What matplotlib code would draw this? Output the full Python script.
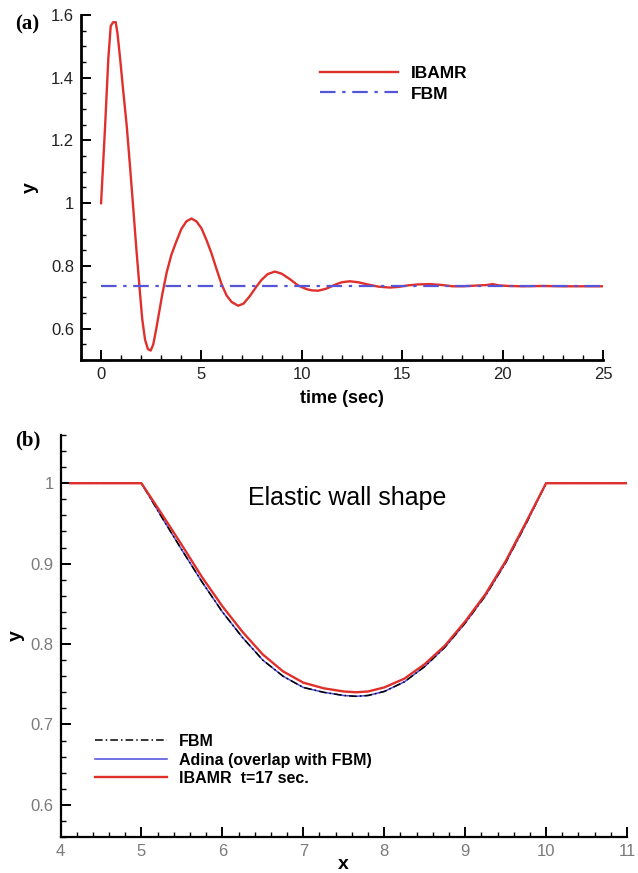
import numpy as np
import matplotlib.pyplot as plt
from matplotlib.ticker import MultipleLocator

# ── Data ───────────────────────────────────────────────────────────────────
# (a) vertical position of the wall vs time
t_ibamr = [0, 0.2, 0.36, 0.48, 0.6, 0.73, 0.82, 0.95, 1.1, 1.28, 1.45, 1.61,
           1.75, 1.91, 2.05, 2.19, 2.33, 2.47, 2.6, 2.75, 2.9, 3.05, 3.27,
           3.5, 3.73, 4.0, 4.25, 4.5, 4.75, 5.0, 5.26, 5.5, 5.75, 6.0, 6.25,
           6.5, 6.83, 7.1, 7.4, 7.75, 8.0, 8.3, 8.66, 9.0, 9.4, 9.8, 10.23,
           10.5, 10.81, 11.2, 11.73, 12.0, 12.39, 12.8, 13.2, 13.8, 14.38,
           14.8, 15.3, 15.8, 16.4, 17.0, 17.5, 18.0, 18.6, 19.2, 19.5, 19.8,
           20.3, 21.0, 22.0, 23.0, 24.0, 25.0]
y_ibamr = [1.0, 1.245, 1.46, 1.565, 1.577, 1.577, 1.54, 1.46, 1.36, 1.245,
           1.11, 0.978, 0.86, 0.735, 0.63, 0.565, 0.535, 0.53, 0.55, 0.6,
           0.655, 0.71, 0.78, 0.835, 0.875, 0.918, 0.942, 0.951, 0.942, 0.92,
           0.881, 0.84, 0.79, 0.742, 0.706, 0.685, 0.673, 0.68, 0.703, 0.735,
           0.756, 0.774, 0.782, 0.775, 0.758, 0.738, 0.726, 0.722, 0.721,
           0.727, 0.742, 0.748, 0.751, 0.748, 0.742, 0.734, 0.731, 0.733,
           0.738, 0.741, 0.742, 0.739, 0.735, 0.735, 0.737, 0.739, 0.742,
           0.738, 0.736, 0.735, 0.736, 0.735, 0.735, 0.735]
t_fbm = [0, 25]
y_fbm = [0.735, 0.735]

# (b) elastic wall shape along x
x_wall = [4.12, 4.5, 5.0, 5.25, 5.5, 5.75, 6.0, 6.25, 6.5, 6.75, 7.0, 7.25,
          7.5, 7.65, 7.8, 8.0, 8.25, 8.5, 8.75, 9.0, 9.25, 9.5, 9.75, 10.0,
          10.5, 11.0]
y_wall_ibamr = [1.0, 1.0, 1.0, 0.962, 0.923, 0.883, 0.847, 0.815, 0.787,
                0.766, 0.752, 0.745, 0.741, 0.740, 0.741, 0.746, 0.757, 0.775,
                0.798, 0.828, 0.862, 0.903, 0.951, 1.0, 1.0, 1.0]
y_wall_fbm = [1.0, 1.0, 1.0, 0.958, 0.917, 0.877, 0.840, 0.808, 0.780, 0.760,
              0.746, 0.740, 0.736, 0.735, 0.736, 0.741, 0.753, 0.772, 0.796,
              0.826, 0.860, 0.901, 0.949, 1.0, 1.0, 1.0]
y_wall_adina = list(y_wall_fbm)

# ── Style ──────────────────────────────────────────────────────────────────
RED = "#e0302c"
PURPLE = "#5555d8"
BLUE = "#4a4ae0"
SANS = ["Liberation Sans", "DejaVu Sans"]
SERIF = ["Liberation Serif", "DejaVu Serif"]
plt.rcParams.update({"font.family": SANS})

W, H = 638, 873
fig = plt.figure(figsize=(W / 100, H / 100), dpi=100)


def frac_box(left, top, right, bottom):
    return [left / W, 1 - bottom / H, (right - left) / W, (bottom - top) / H]


def style_axes(ax, spine_w, tick_color):
    for side in ("top", "right"):
        ax.spines[side].set_visible(False)
    for side in ("left", "bottom"):
        ax.spines[side].set_linewidth(spine_w)
    ax.tick_params(which="major", direction="in", length=7, width=1.4,
                   labelsize=12, labelcolor=tick_color, pad=5)
    ax.tick_params(which="minor", direction="in", length=3.5, width=1.0)


# ── (a) time history ───────────────────────────────────────────────────────
ax1 = fig.add_axes(frac_box(81, 15, 603, 360))
ax1.plot(t_ibamr, y_ibamr, color=RED, lw=1.7, label="IBAMR")
ax1.plot(t_fbm, y_fbm, color=PURPLE, lw=1.6, ls=(0, (7, 3, 1.5, 3)),
         label="FBM")
ax1.set_xlim(-1, 25)
ax1.set_ylim(0.5, 1.6)
ax1.set_xticks([0, 5, 10, 15, 20, 25])
ax1.xaxis.set_minor_locator(MultipleLocator(1))
ax1.set_yticks([0.6, 0.8, 1.0, 1.2, 1.4, 1.6])
ax1.set_yticklabels(["0.6", "0.8", "1", "1.2", "1.4", "1.6"])
ax1.yaxis.set_minor_locator(MultipleLocator(0.05))
style_axes(ax1, 2.0, "#222222")
ax1.set_xlabel("time (sec)", fontsize=13, fontweight="bold", labelpad=6)
ax1.set_ylabel("y", fontsize=14, fontweight="bold", labelpad=9)
ax1.legend(loc="upper left", bbox_to_anchor=(311 / W, 1 - 57 / H),
           bbox_transform=fig.transFigure, frameon=False,
           prop={"weight": "bold", "size": 12.5}, handlelength=4.5,
           handletextpad=0.75, labelspacing=0.32, borderpad=0)
fig.text(15 / W, 1 - 24 / H, "(a)", family=SERIF, fontsize=15,
         fontweight="bold", va="center", ha="left")

# ── (b) wall shape ─────────────────────────────────────────────────────────
ax2 = fig.add_axes(frac_box(60.5, 435, 627, 837))
ax2.plot(x_wall, y_wall_adina, color=BLUE, lw=1.1,
         label="Adina (overlap with FBM)", zorder=2)
ax2.plot(x_wall, y_wall_fbm, color="black", lw=1.1, ls=(0, (5, 2, 1, 2)),
         label="FBM", zorder=3)
ax2.plot(x_wall, y_wall_ibamr, color=RED, lw=1.7, label="IBAMR  t=17 sec.",
         zorder=4)
ax2.set_xlim(4, 11)
ax2.set_ylim(0.56, 1.06)
ax2.set_xticks(range(4, 12))
ax2.xaxis.set_minor_locator(MultipleLocator(0.2))
ax2.set_yticks([0.6, 0.7, 0.8, 0.9, 1.0])
ax2.set_yticklabels(["0.6", "0.7", "0.8", "0.9", "1"])
ax2.yaxis.set_minor_locator(MultipleLocator(0.02))
style_axes(ax2, 1.6, "#7a7a7a")
ax2.set_xlabel("x", fontsize=14, fontweight="bold", labelpad=-2)
ax2.set_ylabel("y", fontsize=14, fontweight="bold", labelpad=4)
ax2.text(7.54, 0.982, "Elastic wall shape", fontsize=18, ha="center",
         va="center")
handles, labels = ax2.get_legend_handles_labels()
order = [1, 0, 2]
ax2.legend([handles[i] for i in order], [labels[i] for i in order],
           loc="upper left", bbox_to_anchor=(87 / W, 1 - 726 / H),
           bbox_transform=fig.transFigure, frameon=False,
           prop={"weight": "bold", "size": 11.5}, handlelength=4.5,
           handletextpad=0.75, labelspacing=0.22, borderpad=0)
fig.text(15 / W, 1 - 440 / H, "(b)", family=SERIF, fontsize=15,
         fontweight="bold", va="center", ha="left")

fig.savefig("out.png", dpi=100)
